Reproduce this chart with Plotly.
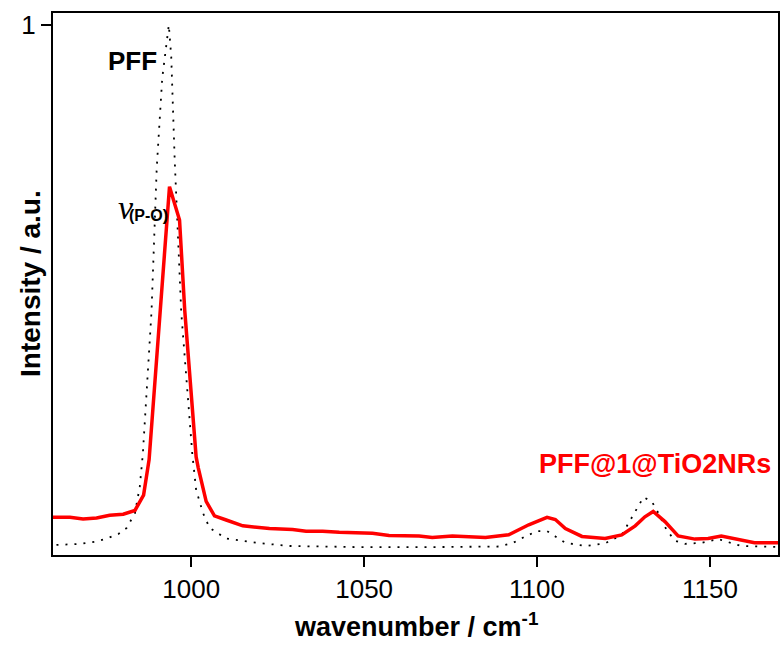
import plotly.graph_objects as go

# PFF reference spectrum (dotted black)
pff_x = [961, 967.8, 972, 975.5, 979, 981.3, 983.7, 985.1, 986.0, 988.5, 990.0, 991.6,
         993.5, 994.2, 995.2, 997.1, 1000.3, 1001.4, 1003.4, 1005.3, 1010.1, 1018.8,
         1028.4, 1047.6, 1070.7, 1088.9, 1092.8, 1096.6, 1100, 1102.9, 1105.3, 1108.2,
         1114, 1119.7, 1124.5, 1127.4, 1129.3, 1130.8, 1133.2, 1135.1, 1137.5, 1139.9,
         1142.8, 1147.6, 1152.4, 1155.3, 1159.1, 1169.7]
pff_y = [0.019, 0.021, 0.025, 0.031, 0.040, 0.051, 0.079, 0.129, 0.192, 0.46, 0.73, 0.90,
         1.0, 0.94, 0.745, 0.457, 0.19, 0.123, 0.079, 0.051, 0.031, 0.023,
         0.017, 0.015, 0.015, 0.016, 0.022, 0.035, 0.045, 0.045, 0.035, 0.023,
         0.017, 0.022, 0.038, 0.072, 0.094, 0.109, 0.101, 0.079, 0.047, 0.027,
         0.021, 0.023, 0.030, 0.025, 0.017, 0.015]

# PFF@1@TiO2NRs spectrum (red)
nr_x = [960, 964.9, 968.7, 972.6, 976.4, 980.3, 983.7, 986.2, 987.8, 993.7, 996.6, 998.1,
        1001.4, 1002, 1004.3, 1006.7, 1010.1, 1014.9, 1022.6, 1029.3, 1033.2, 1038,
        1042.8, 1052.4, 1057.2, 1065.9, 1069.7, 1075.5, 1085.1, 1091.8, 1097.6, 1102.9,
        1105.3, 1108.2, 1113, 1119.7, 1124.5, 1128.4, 1131.2, 1133.6, 1137, 1140.8,
        1145.7, 1149.5, 1153.3, 1158.2, 1162.9, 1169.7]
nr_y = [0.071, 0.071, 0.068, 0.070, 0.075, 0.077, 0.084, 0.113, 0.18, 0.695, 0.632, 0.462,
        0.185, 0.165, 0.101, 0.074, 0.066, 0.055, 0.050, 0.048, 0.045, 0.045,
        0.043, 0.041, 0.037, 0.036, 0.033, 0.036, 0.033, 0.038, 0.057, 0.071,
        0.067, 0.050, 0.035, 0.031, 0.038, 0.055, 0.072, 0.082, 0.063, 0.036,
        0.030, 0.031, 0.036, 0.030, 0.023, 0.023]

x_ticks = [1000, 1050, 1100, 1150]
y_ticks = [1]

FONT = "Liberation Sans, Arial, sans-serif"

fig = go.Figure()
fig.add_trace(go.Scatter(x=pff_x, y=pff_y, mode="lines",
                         line=dict(color="black", width=1.8, dash="2px,7px"),
                         showlegend=False))
fig.add_trace(go.Scatter(x=nr_x, y=nr_y, mode="lines",
                         line=dict(color="#ff0000", width=3.5),
                         showlegend=False))

fig.update_layout(
    width=781, height=648,
    margin=dict(l=53, r=1, t=13, b=93),
    paper_bgcolor="white", plot_bgcolor="white",
    font=dict(family=FONT, color="black"),
    xaxis=dict(range=[960, 1169.7], tickvals=x_ticks, ticks="outside", ticklen=10,
               tickwidth=2, tickcolor="black", showline=True, linecolor="black",
               linewidth=2, mirror=True, showgrid=False, zeroline=False,
               tickfont=dict(size=26, family=FONT)),
    yaxis=dict(range=[0, 1.0226], tickvals=y_ticks, ticktext=["1"], ticks="outside",
               ticklen=10, tickwidth=2, tickcolor="black", showline=True,
               linecolor="black", linewidth=2, mirror=True, showgrid=False,
               zeroline=False, tickfont=dict(size=26, family=FONT)),
)

annotations = [
    dict(x=983.1, y=0.932, text="<b>PFF</b>", font=dict(size=26, color="black", family=FONT)),
    dict(x=981.0, y=0.655, text="<i>ν</i>", font=dict(size=34, color="black",
                                                    family="Liberation Serif, Times New Roman, serif")),
    dict(x=987.6, y=0.640, text="<b>(P-O)</b>", font=dict(size=16, color="black", family=FONT)),
    dict(x=1134.2, y=0.172, text="<b>PFF@1@TiO2NRs</b>",
         font=dict(size=27, color="#ff0000", family=FONT)),
]
for a in annotations:
    fig.add_annotation(xref="x", yref="y", showarrow=False, xanchor="center",
                       yanchor="middle", **a)

fig.add_annotation(xref="paper", yref="paper", x=0.5, y=0, yshift=-70, showarrow=False,
                   xanchor="center", yanchor="middle",
                   text="<b>wavenumber / cm<sup>-1</sup></b>",
                   font=dict(size=27, color="black", family=FONT))
fig.add_annotation(xref="paper", yref="paper", x=0, y=0.5, xshift=-23, showarrow=False,
                   xanchor="center", yanchor="middle", textangle=-90,
                   text="<b>Intensity / a.u.</b>",
                   font=dict(size=28, color="black", family=FONT))

fig.write_html("out.html")
